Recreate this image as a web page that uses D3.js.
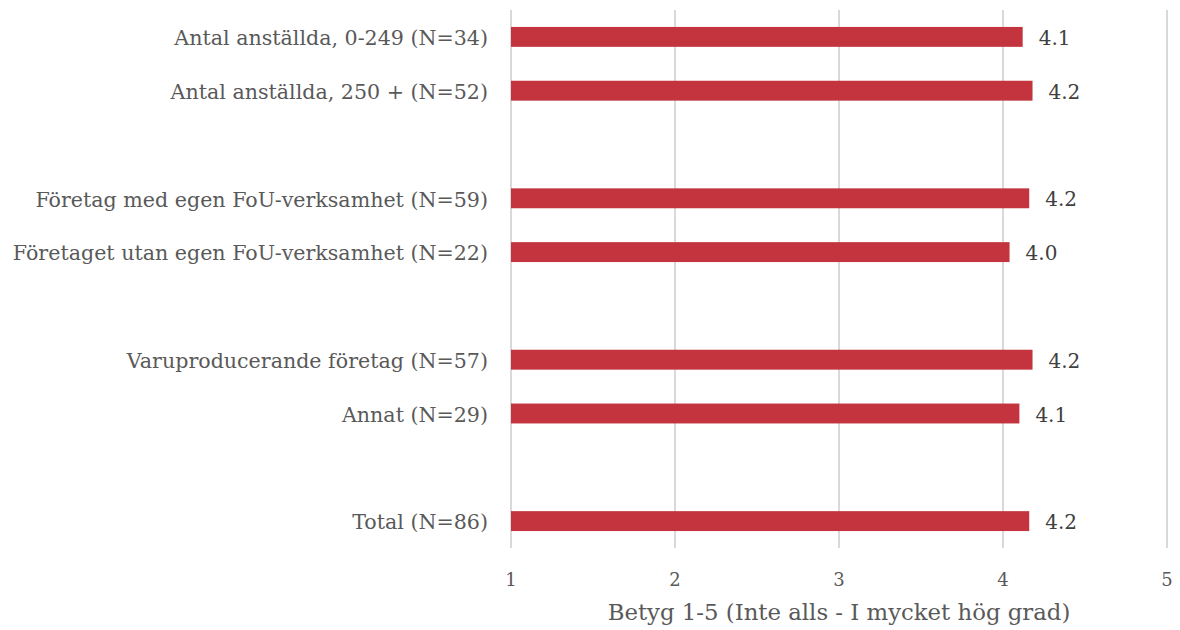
<!DOCTYPE html>
<html><head><meta charset="utf-8">
<script src="https://cdn.jsdelivr.net/npm/d3@7"></script>
<style>body{margin:0;background:#fff}</style>
</head><body><svg id="c" width="1180" height="630"></svg>
<script>
const categories = ["Antal anställda, 0-249 (N=34)","Antal anställda, 250 + (N=52)","_gap1",
  "Företag med egen FoU-verksamhet (N=59)","Företaget utan egen FoU-verksamhet (N=22)","_gap2",
  "Varuproducerande företag (N=57)","Annat (N=29)","_gap3","Total (N=86)"];
const values = [4.12,4.18,null,4.16,4.04,null,4.18,4.10,null,4.16];
const valueLabels = ["4.1","4.2","","4.2","4.0","","4.2","4.1","","4.2"];
const xTicks = [1,2,3,4,5];
const xTitle = "Betyg 1-5 (Inte alls - I mycket hög grad)";

const font = "'DejaVu Serif', Georgia, serif";
const svg = d3.select("#c");
const x = d3.scaleLinear().domain([1,5]).range([511,1167]);
const y = d3.scaleBand().domain(categories).range([10,548]).paddingInner(0.63).paddingOuter(0.315);

svg.append("g").selectAll("line").data(xTicks).join("line")
  .attr("x1",d=>x(d)).attr("x2",d=>x(d)).attr("y1",10).attr("y2",548)
  .attr("stroke","#d9d9d9").attr("stroke-width",2);

const rows = categories.map((c,i)=>({c, v:values[i], l:valueLabels[i]})).filter(d=>d.v!==null);

svg.append("g").selectAll("rect").data(rows).join("rect")
  .attr("x",x(1)).attr("y",d=>y(d.c)).attr("width",d=>x(d.v)-x(1)).attr("height",y.bandwidth())
  .attr("fill","#c3343f");

svg.append("g").selectAll("text").data(rows).join("text")
  .attr("x",d=>x(d.v)+16).attr("y",d=>y(d.c)+y.bandwidth()/2+1).attr("dy","0.35em")
  .attr("font-family",font).attr("font-size",20).attr("fill","#404040").text(d=>d.l);

svg.append("g").selectAll("text").data(rows).join("text")
  .attr("x",488).attr("y",d=>y(d.c)+y.bandwidth()/2+1).attr("dy","0.35em").attr("text-anchor","end")
  .attr("font-family",font).attr("font-size",20.6).attr("fill","#595959").text(d=>d.c);

svg.append("g").selectAll("text").data(xTicks).join("text")
  .attr("x",d=>x(d)).attr("y",580).attr("dy","0.35em").attr("text-anchor","middle")
  .attr("font-family",font).attr("font-size",18).attr("fill","#595959").text(d=>d);

svg.append("text").attr("x",(x(1)+x(5))/2).attr("y",612).attr("dy","0.35em").attr("text-anchor","middle")
  .attr("font-family",font).attr("font-size",22.8).attr("fill","#595959").text(xTitle);
</script></body></html>
